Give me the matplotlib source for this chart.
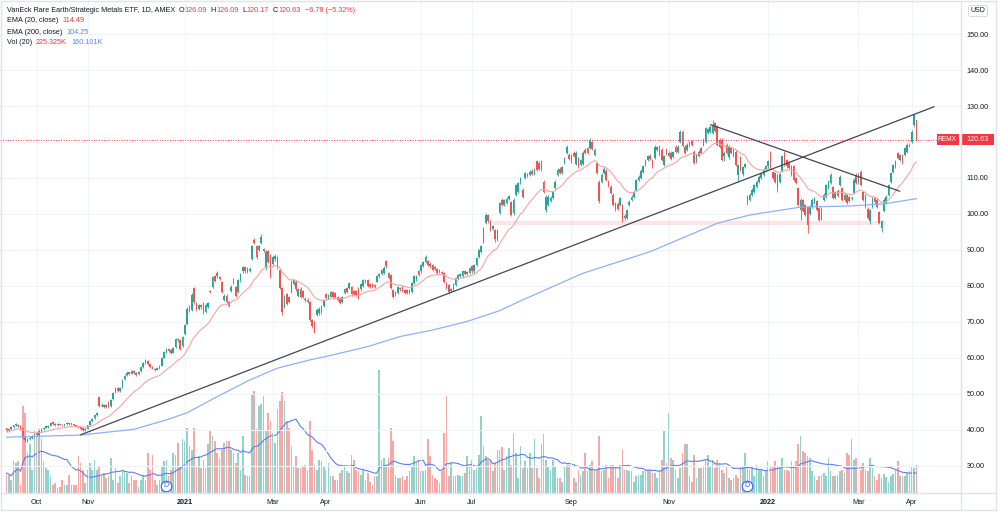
"""VanEck Rare Earth/Strategic Metals ETF (REMX), daily candles with EMA 20/200 and volume."""

import numpy as np
import pandas as pd
import matplotlib
matplotlib.use('Agg')
import matplotlib.pyplot as plt
import matplotlib.transforms as mtransforms
from matplotlib.offsetbox import TextArea, HPacker, AnnotationBbox
from matplotlib.lines import Line2D
from matplotlib.patches import Rectangle

plt.rcParams['font.family'] = ['Liberation Sans', 'DejaVu Sans']

START, END = '2020-09-14', '2022-04-05'
HOLIDAYS = ['2020-11-26', '2020-12-25', '2021-01-01', '2021-01-18', '2021-02-15',
            '2021-04-02', '2021-05-31', '2021-07-05', '2021-09-06', '2021-11-25',
            '2021-12-24', '2022-01-17', '2022-02-21']

# =============================================================================
# Daily bars, one row per month

opens = [
    40.4, 39.6, 40.1, 40.7, 41.2, 41.4, 41.0, 40.4, 37.9, 36.9, 37.3, 37.7, 38.2,
    39.2, 38.5, 39.6, 40.1, 40.6, 40.8, 41.1, 42.1, 41.6, 41.3, 41.6, 41.4, 41.2, 41.5, 41.8, 41.6, 41.6, 41.2, 41.0, 40.7, 40.4, 39.9,
    40.3, 41.3, 42.4, 43.2, 44.1, 49.2, 46.5, 46.9, 46.4, 47.8, 46.6, 48.4, 50.4, 51.5, 50.8, 51.8, 54.0, 55.2, 55.9, 55.6,
    56.3, 55.7, 55.4, 56.2, 57.4, 58.6, 59.2, 58.2, 57.5, 57.0, 56.7, 57.2, 57.8, 60.0, 61.6, 62.5, 62.1, 61.4, 63.0, 65.3, 64.8, 63.2,
    66.5, 69.5, 74.3, 73.2, 79.4, 75.0, 73.6, 74.6, 75.3, 72.8, 74.0, 78.6, 79.8, 82.6, 83.6, 82.5, 81.0, 76.2, 77.3,
    75.5, 78.6, 80.8, 79.6, 78.3, 81.5, 84.0, 85.3, 85.0, 84.2, 87.5, 92.8, 91.0, 90.0, 92.0, 90.3, 85.0, 89.8, 88.6,
    86.2, 87.5, 88.0, 84.4, 79.4, 74.2, 77.7, 76.8, 78.4, 80.5, 81.2, 77.2, 79.2, 78.5, 76.4, 76.2, 75.6, 70.5, 70.0, 71.9, 72.4, 72.7, 74.4,
    77.7, 76.6, 77.0, 78.2, 77.9, 77.0, 76.6, 75.6, 78.0, 79.3, 79.4, 79.7, 78.5, 78.6, 79.4, 79.0, 80.0, 81.6, 81.6, 80.4, 80.5,
    80.2, 81.2, 82.6, 83.2, 83.5, 86.8, 83.5, 83.0, 78.9, 77.4, 78.0, 79.5, 79.7, 78.8, 78.8, 78.8, 78.4, 80.8, 81.7, 84.0,
    84.0, 85.5, 86.7, 87.0, 86.2, 85.8, 85.3, 84.6, 84.5, 83.8, 83.6, 80.8, 80.2, 78.5, 79.0, 80.3, 82.0, 82.8, 82.6, 84.0, 83.3, 83.7,
    85.6, 84.0, 85.8, 88.1, 89.5, 92.3, 97.5, 99.6, 97.9, 95.8, 95.5, 92.8, 100.3, 103.9, 102.6, 103.0, 104.2, 103.4, 100.2, 105.3, 106.0,
    108.6, 106.7, 110.0, 110.5, 110.9, 112.0, 111.0, 114.6, 114.2, 114.6, 109.0, 101.2, 102.5, 103.5, 104.5, 107.2, 110.9, 112.6, 111.5, 114.1, 116.9, 116.5,
    114.6, 117.0, 113.8, 115.5, 113.5, 114.0, 117.8, 118.3, 118.3, 120.0, 116.5, 114.1, 109.0, 109.0, 111.5, 112.0, 109.0, 107.6, 105.3, 103.0, 102.8,
    102.5, 102.5, 99.5, 99.0, 102.5, 104.0, 104.8, 106.7, 109.5, 110.0, 111.8, 113.6, 115.0, 116.2, 115.0, 115.5, 117.8, 118.8, 117.8, 113.6, 117.8,
    116.0, 117.0, 115.8, 118.7, 117.3, 120.1, 122.9, 118.7, 117.8, 119.0, 120.2, 117.3, 114.5, 116.0, 118.3, 120.6, 120.1, 122.4, 122.8, 122.5, 125.3,
    124.3, 120.6, 120.6, 116.0, 119.2, 115.7, 118.3, 117.8, 117.3, 110.9, 115.8, 111.0, 113.0, 105.0, 103.9, 105.3, 106.2, 107.6, 108.8, 110.0, 110.9, 112.3,
    113.2, 117.0, 111.7, 111.3, 110.9, 109.0, 112.0, 116.9, 115.0, 114.2, 113.2, 113.2, 110.0, 107.2, 101.1, 103.9, 102.5, 102.0, 99.9, 102.0,
    103.0, 103.5, 101.6, 98.5, 103.9, 104.8, 107.2, 108.6, 107.6, 104.4, 106.5, 108.1, 107.2, 104.0, 105.3, 104.8, 104.2, 105.8, 110.9,
    108.6, 111.8, 106.2, 105.3, 101.5, 98.0, 102.0, 104.4, 104.0, 100.6, 96.0, 100.7, 103.0, 105.3, 109.0, 111.8, 113.2, 116.9, 115.0, 116.4, 116.4, 117.3, 119.2,
    120.1, 124.8, 126.09,
]

highs = [
    40.6, 40.3, 40.9, 41.4, 41.9, 41.6, 41.2, 40.6, 38.2, 37.6, 38.0, 38.4, 38.9,
    39.4, 39.9, 40.4, 40.8, 41.1, 41.3, 42.1, 42.4, 41.8, 41.8, 41.7, 41.6, 41.7, 42.0, 41.9, 41.9, 41.7, 41.3, 41.1, 40.8, 40.6, 40.5,
    41.4, 42.5, 43.3, 44.3, 45.0, 49.5, 47.3, 47.2, 47.1, 48.0, 48.5, 50.5, 51.8, 51.8, 51.8, 54.2, 55.4, 56.2, 56.1, 56.5,
    56.6, 55.9, 56.2, 57.5, 58.9, 59.7, 59.5, 58.4, 57.8, 57.2, 57.4, 57.9, 60.1, 61.8, 62.7, 62.8, 62.3, 63.1, 65.5, 65.6, 65.0, 66.1,
    69.3, 74.2, 74.8, 77.9, 79.8, 75.4, 75.0, 75.0, 75.6, 75.2, 75.6, 78.9, 82.7, 83.0, 84.0, 82.8, 81.3, 77.6, 77.6,
    75.8, 80.1, 82.2, 79.9, 81.8, 83.7, 85.6, 85.6, 85.3, 85.2, 91.4, 93.3, 91.3, 91.4, 94.3, 90.6, 89.9, 90.1, 88.9,
    88.4, 88.8, 88.4, 84.9, 79.8, 77.5, 78.1, 77.2, 81.6, 82.0, 81.5, 79.5, 79.6, 78.9, 76.8, 76.6, 75.9, 70.9, 70.3, 73.7, 74.0, 74.8, 76.4,
    78.0, 77.7, 78.5, 78.5, 78.2, 77.3, 76.9, 77.1, 79.4, 79.6, 81.2, 80.0, 78.9, 78.9, 79.7, 80.9, 82.0, 81.9, 81.9, 80.7, 80.8,
    80.5, 83.1, 83.7, 84.8, 85.4, 87.2, 83.9, 83.3, 79.2, 78.7, 80.0, 79.8, 80.0, 79.1, 79.1, 79.1, 81.1, 83.1, 82.9, 84.3,
    86.1, 86.9, 88.6, 87.3, 86.5, 86.1, 85.6, 84.9, 84.8, 84.1, 83.9, 81.1, 80.5, 79.5, 80.8, 82.5, 83.3, 83.5, 84.3, 84.3, 84.1, 85.3,
    85.9, 86.1, 88.0, 90.3, 91.4, 96.4, 100.2, 100.0, 98.2, 97.0, 95.8, 95.8, 103.4, 104.3, 104.2, 104.6, 105.4, 103.7, 104.4, 108.4, 109.0,
    110.4, 107.2, 111.7, 111.5, 112.2, 112.4, 112.7, 115.0, 114.6, 115.0, 109.4, 105.2, 105.2, 104.9, 106.4, 109.4, 112.7, 113.0, 113.4, 115.9, 119.1, 116.9,
    116.6, 117.4, 117.4, 115.8, 115.4, 117.4, 118.2, 118.7, 121.2, 120.4, 118.2, 114.5, 109.4, 111.3, 113.0, 112.4, 109.4, 108.0, 105.7, 103.4, 103.2,
    104.8, 102.8, 99.9, 101.4, 103.8, 105.2, 106.6, 109.8, 110.8, 112.4, 113.6, 115.4, 116.4, 116.6, 115.3, 119.1, 119.0, 119.2, 118.2, 116.4, 118.2,
    117.4, 117.4, 117.6, 119.1, 119.1, 123.3, 123.3, 119.1, 119.6, 120.4, 120.6, 117.7, 116.8, 117.7, 118.7, 121.0, 124.3, 124.0, 124.6, 126.2, 125.7,
    124.7, 121.0, 121.0, 117.4, 119.6, 119.1, 118.7, 118.2, 117.7, 114.0, 116.2, 113.4, 114.2, 105.4, 105.7, 107.1, 108.4, 109.4, 110.8, 111.6, 112.7, 113.6,
    115.0, 117.5, 112.0, 111.6, 111.2, 111.4, 116.4, 117.4, 115.4, 114.6, 113.5, 113.5, 110.3, 107.6, 104.3, 104.2, 102.9, 102.3, 102.4, 104.3,
    104.8, 103.8, 101.9, 101.9, 105.7, 108.4, 109.4, 111.3, 107.9, 106.4, 106.8, 110.8, 107.5, 105.7, 105.6, 105.1, 104.9, 109.9, 111.3,
    111.3, 112.3, 106.5, 105.6, 101.9, 101.5, 104.8, 104.7, 104.4, 100.9, 98.3, 104.3, 105.2, 108.4, 111.7, 114.0, 115.0, 117.3, 116.8, 116.7, 118.6, 119.6, 119.6,
    123.3, 127.9, 126.09,
]

lows = [
    39.4, 39.4, 39.9, 40.5, 41.0, 40.8, 40.0, 37.3, 36.7, 36.5, 37.1, 37.5, 38.0,
    38.3, 38.2, 39.4, 39.9, 40.4, 40.6, 40.9, 41.4, 41.1, 41.1, 41.2, 41.0, 41.0, 41.3, 41.4, 41.4, 41.0, 40.8, 40.5, 40.0, 39.5, 39.7,
    40.1, 41.1, 42.1, 43.0, 43.9, 46.3, 46.2, 46.1, 46.1, 46.1, 46.4, 48.2, 50.2, 50.5, 50.6, 51.6, 53.8, 55.0, 55.2, 55.4,
    55.4, 55.0, 55.2, 56.0, 57.2, 58.3, 58.0, 57.2, 56.8, 56.3, 56.5, 57.0, 57.6, 59.8, 61.3, 61.7, 61.0, 61.2, 62.8, 64.4, 62.2, 63.0,
    66.2, 69.2, 72.6, 73.0, 75.0, 72.9, 73.2, 73.6, 72.3, 72.5, 73.7, 78.0, 79.5, 81.0, 82.3, 81.7, 78.1, 75.8, 75.2,
    74.0, 78.3, 80.5, 77.0, 78.0, 81.2, 83.7, 83.7, 83.5, 83.9, 87.2, 91.5, 87.6, 89.7, 91.7, 89.3, 84.5, 86.3, 82.2,
    85.8, 87.0, 84.8, 79.0, 72.0, 73.8, 74.6, 75.1, 78.0, 80.1, 78.6, 76.8, 76.6, 76.6, 75.6, 75.2, 70.2, 68.3, 66.8, 71.5, 72.0, 72.3, 74.0,
    76.3, 76.3, 76.8, 76.7, 76.7, 75.9, 75.0, 75.3, 77.7, 78.0, 79.1, 77.3, 77.5, 77.2, 76.3, 78.7, 79.7, 80.7, 79.7, 79.5, 79.4,
    79.4, 81.0, 82.3, 82.9, 83.2, 85.1, 81.9, 79.1, 76.7, 77.1, 77.7, 78.7, 78.3, 77.7, 77.7, 77.8, 78.1, 80.5, 81.4, 82.7,
    83.7, 85.2, 86.4, 85.5, 85.1, 84.1, 84.3, 83.4, 83.5, 83.2, 80.9, 79.1, 77.8, 78.2, 78.7, 80.0, 81.7, 82.5, 82.3, 83.0, 83.0, 83.4,
    83.7, 83.7, 85.5, 87.8, 89.2, 92.0, 97.2, 97.6, 95.3, 95.4, 92.3, 92.5, 100.0, 102.2, 102.3, 102.7, 103.9, 99.4, 99.8, 105.0, 105.7,
    108.3, 104.4, 109.7, 110.2, 110.6, 110.8, 110.7, 112.0, 112.3, 112.0, 105.8, 100.5, 102.2, 103.2, 104.2, 106.9, 110.6, 111.2, 111.2, 113.8, 116.6, 115.0,
    114.3, 115.7, 113.5, 112.9, 113.2, 113.7, 116.6, 116.7, 118.0, 117.7, 116.2, 111.0, 103.0, 108.7, 111.2, 109.2, 107.5, 105.5, 102.2, 100.8, 101.2,
    102.2, 97.8, 98.4, 98.7, 102.2, 103.7, 104.5, 106.4, 109.2, 109.7, 111.5, 113.3, 114.7, 114.9, 112.9, 115.2, 117.5, 116.2, 114.7, 113.3, 116.3,
    115.7, 115.1, 115.5, 117.0, 117.0, 119.8, 118.7, 116.6, 117.5, 118.7, 119.0, 113.8, 114.2, 115.7, 116.6, 118.9, 119.8, 122.1, 122.5, 122.2, 122.7,
    118.9, 118.4, 114.6, 114.6, 116.6, 115.4, 116.6, 115.7, 113.3, 109.0, 111.9, 110.6, 112.7, 102.5, 103.6, 105.0, 105.9, 107.3, 108.5, 109.7, 110.6, 111.9,
    112.9, 112.4, 109.7, 108.7, 106.0, 108.7, 111.7, 113.3, 112.9, 112.5, 110.6, 109.2, 108.2, 102.2, 98.3, 100.4, 99.4, 94.6, 99.6, 101.7,
    102.7, 100.7, 98.0, 98.2, 103.6, 104.5, 106.9, 108.3, 104.1, 104.1, 104.7, 107.8, 103.6, 103.7, 102.7, 103.3, 103.9, 105.5, 108.3,
    108.3, 107.8, 103.6, 101.7, 98.7, 97.2, 101.7, 102.9, 101.7, 97.1, 95.1, 100.4, 102.7, 105.0, 108.7, 111.5, 112.9, 115.2, 114.7, 113.8, 116.1, 117.0, 118.5,
    119.8, 124.2, 120.17,
]

closes = [
    39.7, 40.1, 40.7, 41.2, 41.5, 41.0, 40.2, 37.6, 37.0, 37.4, 37.8, 38.2, 38.7,
    38.6, 39.6, 40.2, 40.6, 40.9, 41.0, 41.9, 41.6, 41.3, 41.6, 41.4, 41.2, 41.5, 41.8, 41.6, 41.7, 41.2, 41.0, 40.7, 40.2, 39.9, 40.3,
    41.2, 42.3, 43.0, 44.0, 44.7, 46.6, 46.9, 46.4, 46.8, 46.4, 48.3, 50.2, 51.4, 50.8, 51.5, 53.9, 55.0, 55.8, 55.5, 56.2,
    55.7, 55.3, 56.0, 57.3, 58.6, 59.3, 58.2, 57.4, 57.0, 56.6, 57.2, 57.6, 59.8, 61.5, 62.4, 62.0, 61.3, 62.8, 65.2, 64.8, 62.5, 65.8,
    69.0, 73.6, 73.0, 77.5, 75.4, 73.5, 74.6, 74.0, 72.6, 74.8, 75.2, 78.3, 82.4, 81.4, 82.6, 82.0, 78.4, 77.2, 75.5,
    74.4, 79.8, 81.9, 77.3, 81.5, 83.4, 85.3, 84.0, 83.8, 84.8, 91.0, 91.8, 88.0, 91.0, 93.7, 89.7, 89.5, 86.7, 82.6,
    88.0, 88.2, 85.2, 79.4, 72.8, 77.0, 75.0, 75.5, 81.2, 81.5, 79.0, 79.0, 77.0, 77.0, 76.0, 75.6, 70.5, 68.7, 67.3, 73.3, 73.5, 74.4, 76.0,
    76.6, 77.4, 78.2, 77.0, 77.0, 76.2, 75.3, 76.8, 79.1, 78.3, 80.8, 77.6, 77.8, 77.5, 76.6, 80.6, 81.7, 81.0, 80.0, 79.8, 79.7,
    79.7, 82.8, 83.4, 84.5, 85.0, 85.4, 82.2, 79.4, 77.0, 78.4, 79.7, 79.0, 78.6, 78.0, 78.0, 78.1, 80.8, 82.8, 82.6, 83.0,
    85.8, 86.6, 88.1, 85.8, 85.4, 84.4, 84.6, 83.7, 83.8, 83.5, 81.2, 79.4, 78.4, 79.2, 80.5, 82.2, 83.0, 83.2, 84.0, 83.3, 83.8, 85.0,
    84.0, 85.8, 87.7, 90.0, 91.0, 96.0, 99.7, 97.9, 95.6, 96.6, 93.0, 95.4, 103.0, 102.5, 103.8, 104.2, 105.0, 99.8, 104.0, 108.0, 108.6,
    110.0, 104.8, 111.3, 111.0, 111.8, 111.2, 112.3, 112.3, 112.6, 112.4, 106.2, 104.8, 104.8, 104.5, 106.0, 109.0, 112.3, 111.5, 113.0, 115.5, 118.7, 115.3,
    116.2, 116.0, 117.0, 113.2, 115.0, 117.0, 116.9, 117.0, 120.6, 118.0, 117.8, 111.3, 103.6, 110.9, 112.6, 109.5, 107.8, 105.8, 102.5, 101.1, 101.5,
    104.4, 98.3, 98.8, 101.0, 103.4, 104.8, 106.2, 109.4, 110.4, 112.0, 113.2, 115.0, 116.0, 115.2, 113.2, 118.7, 118.5, 116.5, 115.0, 116.0, 116.6,
    117.0, 115.4, 117.2, 117.3, 118.7, 122.9, 119.0, 116.9, 119.2, 120.0, 119.3, 114.1, 116.4, 117.3, 116.9, 119.2, 123.9, 123.6, 124.2, 124.8, 123.0,
    119.2, 118.7, 115.0, 116.9, 116.9, 118.7, 116.9, 116.0, 113.6, 113.6, 112.2, 113.0, 113.8, 103.4, 105.3, 106.7, 108.0, 109.0, 110.4, 111.2, 112.3, 113.2,
    114.6, 112.7, 110.0, 109.0, 107.2, 111.0, 116.0, 113.6, 113.2, 112.8, 110.9, 109.5, 108.5, 102.5, 103.9, 100.7, 99.7, 97.0, 102.0, 103.9,
    104.4, 101.0, 98.4, 101.5, 105.3, 108.0, 109.0, 110.9, 104.4, 106.0, 105.0, 110.4, 103.9, 105.3, 103.0, 103.6, 104.5, 109.5, 108.6,
    110.9, 108.1, 103.9, 102.0, 99.0, 101.1, 104.4, 103.2, 102.0, 97.4, 97.9, 103.9, 104.8, 108.0, 111.3, 113.6, 114.6, 115.5, 116.4, 114.4, 118.4, 119.3, 118.9,
    122.9, 127.41, 120.63,
]

# volume in thousands of shares
volumes = [
    161, 147, 107, 255, 241, 255, 67, 697, 643, 322, 389, 188, 496, 456, 509, 429, 255, 201, 188, 134,
    67, 80, 40, 54, 107, 67, 67, 147, 67, 67, 67, 295, 241, 188, 80, 188, 241, 188, 268, 188,
    214, 134, 161, 121, 134, 281, 107, 201, 80, 134, 188, 174, 161, 80, 134, 107, 107, 54, 107, 134,
    107, 322, 188, 308, 107, 67, 107, 214, 255, 268, 134, 188, 322, 308, 402, 214, 429, 415, 523, 375,
    348, 523, 214, 295, 201, 268, 201, 389, 496, 456, 415, 322, 281, 348, 402, 415, 415, 348, 322, 241,
    322, 188, 456, 147, 134, 134, 791, 817, 509, 697, 710, 777, 496, 643, 576, 482, 402, 670, 737, 804,
    737, 576, 523, 375, 214, 295, 201, 201, 214, 228, 188, 576, 348, 228, 188, 268, 255, 214, 188, 241,
    134, 134, 107, 107, 161, 188, 214, 174, 161, 308, 268, 188, 174, 147, 188, 107, 161, 94, 67, 134,
    134, 983, 268, 281, 214, 281, 523, 415, 134, 121, 121, 134, 107, 134, 174, 214, 295, 241, 268, 174,
    174, 188, 429, 295, 147, 121, 107, 80, 174, 482, 777, 134, 241, 134, 139, 147, 134, 139, 161, 295,
    214, 268, 188, 201, 308, 616, 375, 295, 268, 268, 174, 241, 348,
    348, 370, 188, 300, 362, 228, 469, 322, 121, 375, 201, 255, 201, 322, 201, 429, 201, 121, 389, 469,
    268, 214, 188, 268, 214, 121, 121, 94, 214, 228, 228, 161, 121, 94, 188, 147, 174, 322, 174, 228,
    255, 188, 188, 456, 174, 188, 228, 121, 228, 228, 214, 121, 228, 348, 188, 188, 174, 174, 94, 134,
    147, 147, 174, 188, 188, 188, 161, 161, 121, 188, 268, 496, 241, 643, 281, 268, 188, 121, 201, 322,
    389, 389, 134, 94, 308, 121, 201, 201, 214, 268, 308, 214, 268, 201, 268, 241, 188, 161, 214, 121,
    107, 121, 147, 121, 214, 214, 322, 201, 188, 214, 134, 228, 188, 188, 134, 188, 255, 214, 214, 255,
    214, 201, 281, 188, 188, 174, 255, 214, 255, 389, 456, 335, 322, 295, 281, 174, 134, 107, 134, 147,
    161, 134, 281, 174, 134, 134, 147, 174, 188, 161, 322, 308, 429, 268, 281, 188, 188, 241, 188, 174,
    281, 200, 134, 107, 150, 121, 150, 130, 94, 140, 150, 190, 260, 134, 134, 140, 160, 174, 208.7, 200,
    225.325,
]

# EMA(200) at a few bars (bar number, value)
ema200_bar = [0, 32, 55, 69, 78, 91, 105, 117, 131, 141, 156, 170, 184, 199, 213, 223,
              249, 278, 307, 321, 343, 364, 379, 393]
ema200_val = [37.9, 38.5, 40.1, 42.7, 44.7, 49.2, 53.8, 57.1, 59.4, 60.8, 63.1, 65.9,
              67.7, 70.1, 73.1, 76.1, 83.5, 89.5, 97.4, 99.7, 101.9, 102.2, 102.8, 104.25]

# drawings: two trend lines (bar, price) and a support zone
trend_up_bar, trend_up_px = [32.1, 400.6], [38.6, 129.8]
trend_dn_bar, trend_dn_px = [304.3, 385.8], [124.8, 106.33]
zone_bar, zone_px = [210.1, 379.7], [96.95, 98.15]

dividend_dates = ['2020-12-21', '2021-12-20']
month_starts = ['2020-10-01', '2020-11-01', '2021-01-01', '2021-03-01', '2021-04-01',
                '2021-06-01', '2021-07-01', '2021-09-01', '2021-11-01', '2022-01-01',
                '2022-03-01', '2022-04-01']
month_labels = ['Oct', 'Nov', '2021', 'Mar', 'Apr', 'Jun', 'Jul', 'Sep', 'Nov', '2022', 'Mar', 'Apr']

# =============================================================================

GREEN, RED = '#26a69a', '#ef5350'
TEXT = '#131722'
LINE = '#e0e3eb'

o = np.array(opens)
h = np.array(highs)
l = np.array(lows)
c = np.array(closes)
vol = np.array(volumes)
x = np.arange(len(c))
dates = pd.bdate_range(START, END, freq='C', holidays=HOLIDAYS)

up = c >= o
col = np.where(up, GREEN, RED)
ema20 = pd.Series(c).ewm(span=20, adjust=False).mean()
vol_ma = pd.Series(vol).rolling(20, min_periods=1).mean()

fig = plt.figure(figsize=(10, 5.14), dpi=100)
ax = fig.add_axes([0, 20.7 / 514, 0.961, 493.3 / 514])
axv = ax.twinx()
ax.set_zorder(axv.get_zorder() + 1)
ax.patch.set_visible(False)

# volume pane
axv.bar(x, vol, width=0.7, color=col, alpha=0.5, linewidth=0)
axv.plot(x, vol_ma, color='#5b7ff0', lw=0.8)
axv.set_ylim(0, 3930)
axv.axis('off')

# grid, zone, levels
ax.grid(True, color='#f0f3fa', lw=0.8)
ax.set_axisbelow(True)
ax.fill_between(zone_bar, zone_px[0], zone_px[1], color='#f23645', alpha=0.13, lw=0, zorder=1)
ax.axhline(c[-1], color='#f23645', lw=0.7, ls=(0, (1, 1.6)), zorder=2)

# candles
ax.vlines(x, l, h, colors=col, lw=0.6, zorder=3)
ax.bar(x, np.maximum(np.abs(c - o), 0.15), bottom=np.minimum(o, c), width=0.7,
       color=col, linewidth=0, zorder=4)

# moving averages and drawings
ax.plot(x, ema20, color='#f5a5a3', lw=0.8, zorder=5)
ax.plot(ema200_bar, ema200_val, color='#8db2f2', lw=0.9, zorder=5)
ax.plot(trend_up_bar, trend_up_px, color='#434651', lw=0.9, zorder=6)
ax.plot(trend_dn_bar, trend_dn_px, color='#434651', lw=0.9, zorder=6)

ax.set_xlim(-2.85, 412.3)
ax.set_ylim(22.3, 159.5)

# axes ticks; the 120 label sits under the last-price tag, as on the reference
ax.yaxis.tick_right()
ax.set_yticks(np.arange(30, 151, 10))
ax.set_yticklabels(['' if v == 120 else f'{v:.2f}' for v in range(30, 151, 10)])
tick_pos = [int(np.searchsorted(dates.values, np.datetime64(m))) for m in month_starts]
ax.set_xticks(tick_pos)
ax.set_xticklabels(month_labels)
ax.tick_params(axis='y', length=0, pad=4.1, labelsize=5.2, labelcolor=TEXT)
ax.tick_params(axis='x', length=0, pad=4.0, labelsize=5.2, labelcolor=TEXT)
for t in ax.get_xticklabels():
    if t.get_text().startswith('20'):
        t.set_fontweight('bold')
for s in ax.spines.values():
    s.set_visible(False)

# dividend markers
blend = mtransforms.blended_transform_factory(ax.transData, ax.transAxes)
for d in dividend_dates:
    i = int(np.searchsorted(dates.values, np.datetime64(d)))
    ax.plot(i, 0.0154, 'o', ms=7.6, mfc='white', mec='#2962ff', mew=0.8,
            transform=blend, zorder=8, clip_on=False)
    ax.text(i, 0.0154, 'D', transform=blend, ha='center', va='center',
            fontsize=5, color='#2962ff', zorder=9)

# last price labels
yblend = mtransforms.blended_transform_factory(ax.transAxes, ax.transData)
box_h = 3.06
ax.add_patch(Rectangle((1.0, c[-1] - box_h / 2), 33 / 961, box_h, transform=yblend,
                       color='#f23645', clip_on=False, zorder=9, lw=0))
ax.text(1.0 + 16.5 / 961, c[-1], f'{c[-1]:.2f}', transform=yblend, ha='center', va='center',
        color='white', fontsize=5.2, clip_on=False, zorder=10)
ax.add_patch(Rectangle((937 / 961, c[-1] - box_h / 2), 21.5 / 961, box_h, transform=yblend,
                       color='#f23645', clip_on=False, zorder=9, lw=0))
ax.text(947.5 / 961, c[-1], 'REMX', transform=yblend, ha='center', va='center',
        color='white', fontsize=4.8, clip_on=False, zorder=10)

# frame lines
def fig_line(x0, y0, x1, y1):
    fig.add_artist(Line2D([x0 / 1000, x1 / 1000], [1 - y0 / 514, 1 - y1 / 514],
                          transform=fig.transFigure, color=LINE, lw=1))

fig_line(0.5, 0.5, 996, 0.5)
fig_line(0.5, 0.5, 0.5, 510)
fig_line(0.5, 510, 996, 510)
fig_line(996, 0.5, 996, 510)
fig_line(961, 0.5, 961, 510)
fig_line(0.5, 493.3, 996, 493.3)

fig.text(978 / 1000, 1 - 11 / 514, 'USD', ha='center', va='center', fontsize=5, color=TEXT,
         bbox=dict(boxstyle='round,pad=0.3,rounding_size=0.3', fc='white', ec='#d1d4dc', lw=0.6))

# legend lines
chg = c[-1] - c[-2]
legend_rows = [
    [('VanEck Rare Earth/Strategic Metals ETF, 1D, AMEX', TEXT),
     ('  O', TEXT), (f'{o[-1]:.2f}', '#f23645'),
     ('  H', TEXT), (f'{h[-1]:.2f}', '#f23645'),
     ('  L', TEXT), (f'{l[-1]:.2f}', '#f23645'),
     ('  C', TEXT), (f'{c[-1]:.2f}', '#f23645'),
     (f'  \u2212{abs(chg):.2f} (\u2212{abs(chg) / c[-2] * 100:.2f}%)', '#f23645')],
    [('EMA (20, close)  ', TEXT), (f'{ema20.iloc[-1]:.2f}', '#f23645')],
    [('EMA (200, close)  ', TEXT), (f'{ema200_val[-1]:.2f}', '#4f87f0')],
    [('Vol (20)  ', TEXT), (f'{vol[-1]:.3f}K', '#f23645'), ('  ', TEXT),
     (f'{vol_ma.iloc[-1]:.3f}K', '#4f87f0')],
]
for k, row in enumerate(legend_rows):
    parts = [TextArea(s, textprops=dict(color=clr, fontsize=5.2)) for s, clr in row]
    pack = HPacker(children=parts, align='center', pad=0, sep=0)
    ab = AnnotationBbox(pack, (7, 504 - 11 * k), xycoords='figure pixels',
                        box_alignment=(0, 0.5), frameon=False, pad=0, annotation_clip=False)
    fig.add_artist(ab)

plt.savefig('out.png', dpi=100)
